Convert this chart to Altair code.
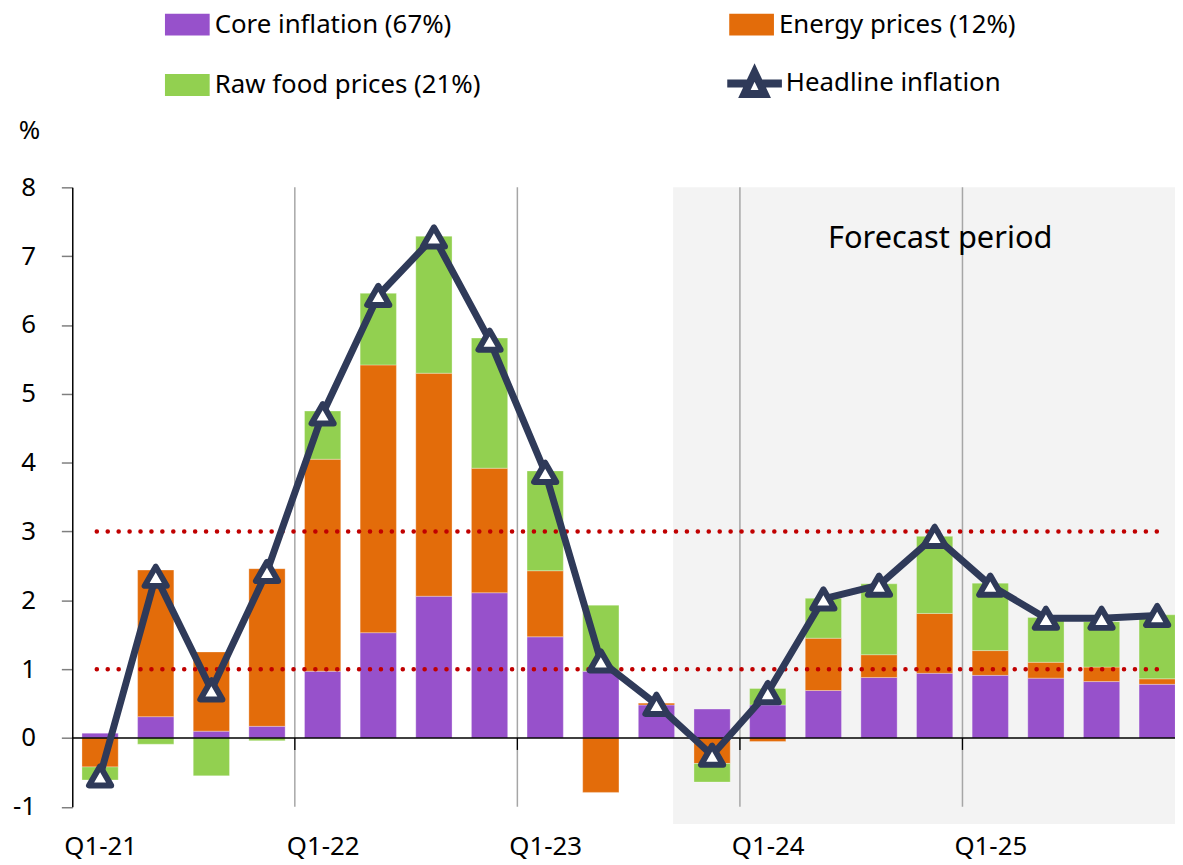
import altair as alt
import pandas as pd

# ---------------- data ----------------
quarters = ["Q1-21", "Q2-21", "Q3-21", "Q4-21",
            "Q1-22", "Q2-22", "Q3-22", "Q4-22",
            "Q1-23", "Q2-23", "Q3-23", "Q4-23",
            "Q1-24", "Q2-24", "Q3-24", "Q4-24",
            "Q1-25", "Q2-25", "Q3-25", "Q4-25"]

core = [0.07, 0.31, 0.10, 0.17, 0.97, 1.53, 2.06, 2.11, 1.47, 0.97,
        0.48, 0.42, 0.48, 0.69, 0.88, 0.94, 0.91, 0.87, 0.82, 0.78]
energy = [-0.42, 2.13, 1.15, 2.29, 3.08, 3.89, 3.24, 1.81, 0.96, -0.79,
          0.03, -0.37, -0.05, 0.76, 0.33, 0.87, 0.36, 0.23, 0.21, 0.08]
food = [-0.19, -0.09, -0.55, -0.04, 0.70, 1.04, 1.99, 1.89, 1.45, 0.96,
        0.00, -0.27, 0.24, 0.58, 1.03, 1.12, 0.98, 0.65, 0.66, 0.93]
headline = [-0.55, 2.35, 0.70, 2.42, 4.71, 6.43, 7.28, 5.78, 3.86, 1.12,
            0.49, -0.25, 0.66, 2.02, 2.22, 2.93, 2.22, 1.74, 1.74, 1.78]

series_names = ["Core inflation (67%)", "Energy prices (12%)", "Raw food prices (21%)"]
series_values = [core, energy, food]
series_colors = ["#9751CB", "#E36C0A", "#92D050"]
headline_name = "Headline inflation"
target_levels = [1, 3]
forecast_label = "Forecast period"

# ---------------- styles ----------------
FONT = "Noto Sans"
NAVY = "#2F3A59"
RED = "#C00000"
GRID = "#A6A6A6"
SHADE = "#F3F3F3"

n = len(quarters)
x_scale = alt.Scale(domain=[-0.5, n - 0.68], nice=False, zero=False, padding=0)
y_scale = alt.Scale(domain=[-1, 8], nice=False, zero=False, padding=0)

# ---------------- tables ----------------
bars_df = pd.DataFrame([
    {"idx": i, "quarter": q, "component": name, "value": vals[i], "ord": k}
    for k, (name, vals) in enumerate(zip(series_names, series_values))
    for i, q in enumerate(quarters)
])
line_df = pd.DataFrame({"idx": list(range(n)), "quarter": quarters,
                        "headline": headline, "series": headline_name})
target_df = pd.DataFrame({"x": [-0.06] * len(target_levels),
                          "x2": [n - 1] * len(target_levels),
                          "y": target_levels})
bounds_df = pd.DataFrame({"x": [i - 0.5 for i, q in enumerate(quarters)
                                if q.startswith("Q1") and i > 0]})
forecast_df = pd.DataFrame({"x": [10.3], "x2": [n - 0.5], "y": [-1.25], "y2": [8]})
text_df = pd.DataFrame({"x": [15.1], "y": [7.12], "t": [forecast_label]})
zero_df = pd.DataFrame({"y": [0]})

label_values = [i for i, q in enumerate(quarters) if q.startswith("Q1")]
label_expr = "[" + ",".join("'%s'" % q for q in quarters) + "][datum.value]"

x_axis = alt.Axis(values=label_values, labelExpr=label_expr, labelFont=FONT,
                  labelFontSize=26, labelColor="black", labelBaseline="alphabetic",
                  labelPadding=48.0, labelFlush=False, labelAlign="center",
                  ticks=False, tickSize=0, domain=False, grid=False, title=None)
y_axis = alt.Axis(values=list(range(-1, 9)), labelExpr="'' + datum.value",
                  labelFont=FONT, labelFontSize=26, labelColor="black",
                  labelPadding=26, tickSize=11, tickColor="#7F7F7F", tickWidth=1.5,
                  domainColor="black", domainWidth=1.5, grid=False,
                  title="%", titleAngle=0, titleX=-43.7, titleY=-56.7,
                  titleAlign="center", titleBaseline="middle", titleFont=FONT,
                  titleFontSize=26, titleFontWeight="normal", titleColor="black")


def X(field, **kw):
    return alt.X(field, scale=x_scale, axis=x_axis, **kw)


def Y(field, **kw):
    return alt.Y(field, scale=y_scale, axis=y_axis, **kw)


# ---------------- layers ----------------
shade = alt.Chart(forecast_df).mark_rect(color=SHADE).encode(
    x=X("x:Q"), x2="x2:Q", y=Y("y:Q"), y2="y2:Q",
)

grid = alt.Chart(bounds_df).mark_rule(color=GRID, strokeWidth=1.5).encode(
    x=X("x:Q"),
)

bars = alt.Chart(bars_df).mark_bar(width=36.5, orient="vertical",
                                   stroke="white", strokeWidth=0.6,
                                   strokeOpacity=0.5).encode(
    x=X("idx:Q"),
    y=Y("value:Q", stack="zero"),
    color=alt.Color("component:N",
                    scale=alt.Scale(domain=series_names, range=series_colors),
                    legend=alt.Legend(orient="none", legendX=93.3, legendY=-186.5,
                                      direction="horizontal",
                                      columns=2, columnPadding=250, rowPadding=25,
                                      symbolType="M-1,-0.49H1V0.49H-1Z",
                                      symbolSize=2025, symbolStrokeWidth=0,
                                      symbolOpacity=1,
                                      labelFont=FONT, labelFontSize=26,
                                      labelColor="black", labelOffset=5,
                                      labelLimit=0, title=None, padding=0)),
    order=alt.Order("ord:Q"),
)

zero_line = alt.Chart(zero_df).mark_rule(color="black", strokeWidth=1.3).encode(
    y=Y("y:Q"),
)

zero_ticks = alt.Chart(bounds_df).mark_rule(color="black", strokeWidth=1.3,
                                            y2Offset=12).encode(
    x=X("x:Q"),
    y=alt.datum(0),
    y2=alt.datum(0),
)

targets = alt.Chart(target_df).mark_rule(color=RED, strokeWidth=4.5,
                                         strokeCap="round",
                                         strokeDash=[0.1, 10.9]).encode(
    x=X("x:Q"), x2="x2:Q", y=Y("y:Q"),
)

label = alt.Chart(text_df).mark_text(font=FONT, fontSize=31, color="black",
                                     align="center", baseline="alphabetic").encode(
    x=X("x:Q"), y=Y("y:Q"), text="t:N",
)

LEG_PATH = ("M-1,0H-0.19M0.19,0H1"
            "M0,-0.4L0.37,0.38L-0.37,0.38Z")

line = alt.Chart(line_df).mark_line(strokeWidth=7, strokeJoin="round").encode(
    x=X("idx:Q"),
    y=Y("headline:Q"),
    stroke=alt.Stroke("series:N",
                      scale=alt.Scale(domain=[headline_name], range=[NAVY]),
                      legend=alt.Legend(orient="none", legendX=655.3, legendY=-136.0,
                                        symbolType=LEG_PATH, symbolSize=3025,
                                        symbolStrokeWidth=8, symbolFillColor="white",
                                        symbolStrokeColor=NAVY, symbolOpacity=1,
                                        labelFont=FONT, labelFontSize=26,
                                        labelColor="black", labelOffset=0,
                                        labelLimit=0, title=None, padding=0)),
)

points = alt.Chart(line_df).mark_point(shape="triangle-up", filled=True,
                                       fill="white", stroke=NAVY, strokeWidth=6,
                                       strokeJoin="round", size=500,
                                       opacity=1).encode(
    x=X("idx:Q"),
    y=Y("headline:Q"),
)

chart = alt.layer(
    shade, grid, bars, zero_line, zero_ticks, targets, label, line, points
).properties(
    width=1110,
    height=623.6,
    background="white",
    padding={"left": 64.7, "top": 177.7, "right": 0, "bottom": 54},
    autosize=alt.AutoSizeParams(type="none"),
).resolve_scale(
    color="independent", stroke="independent"
).configure_view(
    stroke=None
)

chart.save("out.html", embed_options={"renderer": "svg", "actions": False})
